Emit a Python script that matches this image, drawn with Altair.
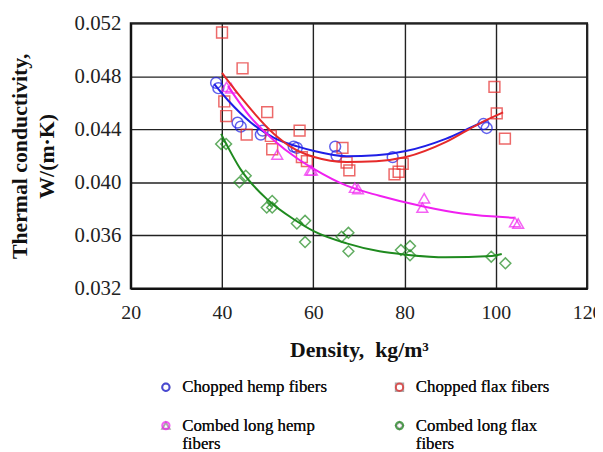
import altair as alt
import pandas as pd

series_names = ["Chopped hemp fibers", "Chopped flax fibers",
                "Combed long hemp fibers", "Combed long flax fibers"]
colors = ["#1f1fe6", "#e62a2a", "#f020f0", "#1f8a1f"]
shapes = ["circle", "square", "triangle-up", "diamond"]

# measured points
hemp_x = [38.7, 39.2, 43.4, 44.1, 48.5, 48.9, 55.7, 56.4, 64.8, 65.1, 77.4, 97.3, 98.0]
hemp_y = [0.0475, 0.0471, 0.0445, 0.0442, 0.0436, 0.0439, 0.0427, 0.0426, 0.0427, 0.0420, 0.0419, 0.0444, 0.0441]

flax_x = [40.0, 40.5, 40.9, 44.5, 45.4, 49.9, 50.7, 51.0, 57.0, 57.5, 58.6, 66.4, 67.3, 67.9,
          77.8, 78.7, 79.6, 99.7, 100.2, 102.0]
flax_y = [0.0513, 0.0461, 0.0450, 0.0486, 0.0436, 0.0453, 0.0435, 0.0425, 0.0439, 0.0419, 0.0416,
          0.0426, 0.0415, 0.0409, 0.0406, 0.0408, 0.0414, 0.0472, 0.0452, 0.0433]

combed_hemp_x = [41.0, 42.0, 52.1, 59.3, 59.7, 69.1, 69.8, 83.9, 84.3, 104.2, 104.9]
combed_hemp_y = [0.0472, 0.0471, 0.0421, 0.0409, 0.0409, 0.0396, 0.0395, 0.0381, 0.0388, 0.0370, 0.0369]

combed_flax_x = [39.8, 40.9, 43.8, 45.2, 49.8, 51.0, 51.0, 56.4, 58.2, 58.2, 66.2, 67.7, 67.7,
                 79.2, 81.2, 81.2, 99.0, 102.1]
combed_flax_y = [0.0429, 0.0429, 0.0400, 0.0405, 0.0381, 0.0386, 0.0381, 0.0369, 0.0371, 0.0355,
                 0.0359, 0.0362, 0.0348, 0.0349, 0.0352, 0.0345, 0.0344, 0.0339]

# fitted trend curves
hemp_fit_x = [38.3, 41.3, 46.3, 51.4, 56.5, 60.2, 67.3, 73.8, 80.3, 89.0, 96.2, 98.3]
hemp_fit_y = [0.04740, 0.04619, 0.04452, 0.04336, 0.04271, 0.04236, 0.04197, 0.04204, 0.04236,
              0.04328, 0.04440, 0.04470]

flax_fit_x = [40.0, 44.2, 51.4, 55.0, 60.2, 67.3, 73.8, 80.3, 89.0, 96.2, 101.6]
flax_fit_y = [0.04825, 0.04638, 0.04365, 0.04270, 0.04191, 0.04154, 0.04160, 0.04191, 0.04303,
              0.04440, 0.04527]

combed_hemp_fit_x = [41.3, 46.3, 51.4, 56.5, 60.2, 67.3, 74.5, 83.9, 92.6, 104.1]
combed_hemp_fit_y = [0.04726, 0.04490, 0.04316, 0.04180, 0.04100, 0.03975, 0.03899, 0.03820,
                     0.03765, 0.03733]

combed_flax_fit_x = [39.8, 44.2, 50.0, 55.8, 60.2, 67.3, 74.5, 80.3, 89.0, 99.1, 101.3]
combed_flax_fit_y = [0.04366, 0.04092, 0.03869, 0.03720, 0.03630, 0.03540, 0.03480, 0.03455,
                     0.03435, 0.03445, 0.03460]

x_ticks = [20, 40, 60, 80, 100, 120]
y_ticks = [0.032, 0.036, 0.040, 0.044, 0.048, 0.052]

rows = []
for name, xs, ys in zip(series_names,
                        [hemp_x, flax_x, combed_hemp_x, combed_flax_x],
                        [hemp_y, flax_y, combed_hemp_y, combed_flax_y]):
    for xv, yv in zip(xs, ys):
        rows.append({"series": name, "x": xv, "y": yv})
df = pd.DataFrame(rows)

fit_rows = []
for name, xs, ys in zip(series_names,
                        [hemp_fit_x, flax_fit_x, combed_hemp_fit_x, combed_flax_fit_x],
                        [hemp_fit_y, flax_fit_y, combed_hemp_fit_y, combed_flax_fit_y]):
    for xv, yv in zip(xs, ys):
        fit_rows.append({"series": name, "x": xv, "y": yv})
df_fit = pd.DataFrame(fit_rows)

FONT = "Liberation Serif"

xscale = alt.Scale(domain=[20, 120], nice=False)
yscale = alt.Scale(domain=[0.032, 0.052], nice=False, zero=False)
cscale = alt.Scale(domain=series_names, range=colors)
sscale = alt.Scale(domain=series_names, range=shapes)

xaxis = alt.Axis(values=x_ticks, title="Density,\u00a0\u00a0kg/m³", format="d",
                 grid=True, ticks=False, labelPadding=14, titlePadding=18, labelFlush=False,
                 titleFontSize=22)
yaxis = alt.Axis(values=y_ticks, title=["Thermal conductivity,", "W/(m·K)"], format=".3f",
                 grid=True, ticks=False, labelPadding=10, titlePadding=16, labelFontSize=21,
                 titleFontSize=22)

label_expr = ("datum.label == 'Combed long hemp fibers' ? ['Combed long hemp', 'fibers'] : "
              "datum.label == 'Combed long flax fibers' ? ['Combed long flax', 'fibers'] : datum.label")

legend = alt.Legend(title=None, orient="none", legendX=27, legendY=359, columns=2,
                    direction="horizontal", columnPadding=64, rowPadding=21,
                    labelExpr=label_expr, labelFont=FONT, labelFontSize=17,
                    labelColor="#111", labelOffset=8, symbolSize=55,
                    symbolStrokeWidth=2, symbolFillColor="transparent", labelLimit=300)

points = alt.Chart(df).mark_point(filled=False, size=120, strokeWidth=1.5).encode(
    x=alt.X("x:Q", scale=xscale, axis=xaxis),
    y=alt.Y("y:Q", scale=yscale, axis=yaxis),
    color=alt.Color("series:N", scale=cscale, legend=legend),
    shape=alt.Shape("series:N", scale=sscale, legend=legend),
)

lines = alt.Chart(df_fit).mark_line(strokeWidth=2, interpolate="monotone").encode(
    x=alt.X("x:Q", scale=xscale),
    y=alt.Y("y:Q", scale=yscale),
    color=alt.Color("series:N", scale=cscale, legend=None),
)

chart = alt.layer(points, lines).resolve_legend(color="independent").properties(
    width=461, height=268,
    autosize=alt.AutoSizeParams(type="none"),
    padding={"left": 124, "top": 13, "right": 8, "bottom": 180},
).configure_view(stroke="#111", strokeWidth=2).configure_axis(
    labelFont=FONT, labelFontSize=20, labelColor="#222",
    titleFont=FONT, titleFontSize=18, titleFontWeight="bold", titleColor="#111",
    gridColor="#222", gridWidth=1.4, gridOpacity=1,
    domainColor="#111", domainWidth=2,
).configure_axisY(titleLineHeight=27)

chart.save("out.html", embed_options={"renderer": "svg", "actions": False})
